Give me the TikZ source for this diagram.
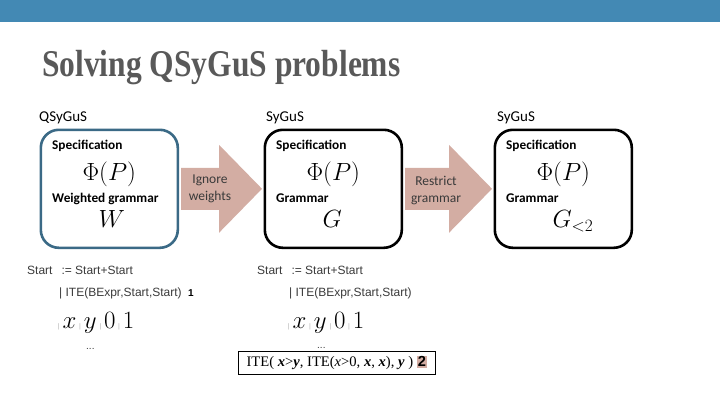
\documentclass[tikz,border=0pt]{standalone}
\usepackage{amsmath}
\usepackage{fontspec}
\setmainfont{Liberation Serif}
\newfontfamily\calfont{Carlito}
\newfontfamily\arialfont{Liberation Sans}
\usepackage{tikz}
\usetikzlibrary{calc,positioning}
\definecolor{barblue}{HTML}{4389B4}
\definecolor{frameblue}{HTML}{3B6A86}
\definecolor{arrowtint}{HTML}{D3ADA3}
\definecolor{titlegray}{HTML}{595959}
\definecolor{textgray}{HTML}{3A3A3A}
\newcommand{\gbar}{{\fontsize{7}{7}\selectfont\color{gray}\hspace{3pt}|\hspace{3pt}}}

\begin{document}
\begin{tikzpicture}[x=1pt,y=-1pt,every node/.style={inner sep=0pt,anchor=base west},
    specbox/.style={draw=#1,line width=2.6pt,rounded corners=18pt,minimum width=137pt,minimum height=118pt,anchor=north west},
    headlab/.style={font=\calfont\fontsize{15}{17}\selectfont,text=black},
    boxlab/.style={font=\calfont\bfseries\fontsize{13.3}{15}\selectfont,text=black},
    bigmath/.style={font=\fontsize{26}{28}\selectfont,anchor=base},
    arrowlab/.style={font=\calfont\fontsize{13.5}{17}\selectfont,text=textgray,align=center,anchor=center},
    gramline/.style={font=\arialfont\fontsize{12}{14}\selectfont,text=textgray}]
    \useasboundingbox (0,0) rectangle (720,405);
    \fill[barblue] (0,0) rectangle (720,22);
    \node[font=\bfseries\fontsize{31.5}{35}\selectfont,text=titlegray,yscale=1.2] (title) at (42,76) {Solving QSyGuS problems};
    \foreach \lab/\x [count=\i] in {QSyGuS/39, SyGuS/266, SyGuS/497} {
      \node[headlab] (head\i) at (\x,121) {\lab};
    }
    \foreach \nm/\x/\col/\gram/\sym in {%
      qbox/39.5/frameblue/Weighted grammar/W,
      sbox/263.5/black/Grammar/G,
      rbox/493.5/black/Grammar/G_{<2}%
    } {
      \node[specbox=\col] (\nm) at (\x,128.5) {};
      \node[boxlab] (\nm-spec) at ($(\nm.north west)+(12.5,20.5)$) {Specification};
      \node[bigmath] (\nm-phi) at ($(\nm.north)+(0,52)$) {$\Phi(P)$};
      \node[boxlab] (\nm-gram) at ($(\nm.north west)+(12.5,73.5)$) {\gram};
      \node[bigmath,anchor=base west] (\nm-sym) at ($(\nm.north)+(-11,99)$) {$\sym$};
    }
    \foreach \a/\b in {qbox/sbox, sbox/rbox} {
      \fill[arrowtint] ($(\a.east)+(2,-21)$) -- ($(\b.west)+(-44.5,-21)$) -- ($(\b.west)+(-44.5,-44)$)
        -- ($(\b.west)+(-1.5,0)$) -- ($(\b.west)+(-44.5,44)$) -- ($(\b.west)+(-44.5,21)$) -- ($(\a.east)+(2,21)$) -- cycle;
    }
    \node[arrowlab] (ignore) at (210,189) {Ignore\\weights};
    \node[arrowlab] (restrict) at (436,190.5) {Restrict\\grammar};
    \node[gramline] (start1) at (27,274) {Start\hspace{9pt}:= Start+Start};
    \node[gramline] (ite1) at (59,296) {| ITE(BExpr,Start,Start)};
    \node[font=\arialfont\bfseries\fontsize{10}{12}\selectfont] (w1) at (188,296) {1};
    \node[font=\fontsize{24}{26}\selectfont] (leaf1) at (55,328) {\gbar$x$\gbar$y$\gbar$0$\gbar$1$};
    \node[gramline,font=\arialfont\fontsize{10}{12}\selectfont] (dots1) at (86,349) {...};
    \node[gramline] (start2) at (257,274) {Start\hspace{9pt}:= Start+Start};
    \node[gramline] (ite2) at (289,296) {| ITE(BExpr,Start,Start)};
    \node[font=\fontsize{24}{26}\selectfont] (leaf2) at (285,328) {\gbar$x$\gbar$y$\gbar$0$\gbar$1$};
    \node[gramline,font=\arialfont\fontsize{10}{12}\selectfont] (dots2) at (317,348) {...};
    \node[draw,line width=1.5pt,minimum width=197pt,minimum height=23pt,anchor=north west,font=\fontsize{14.6}{16}\selectfont] (prog) at (237.5,350.5)
      {ITE( \textbf{\textit{x}}>\textbf{\textit{y}}, ITE(\textit{x}>0, \textbf{\textit{x}}, \textbf{\textit{x}}), \textbf{\textit{y}} ) {\setlength\fboxsep{1pt}\colorbox{arrowtint}{\arialfont\bfseries 2}}};
  \end{tikzpicture}
\end{document}
